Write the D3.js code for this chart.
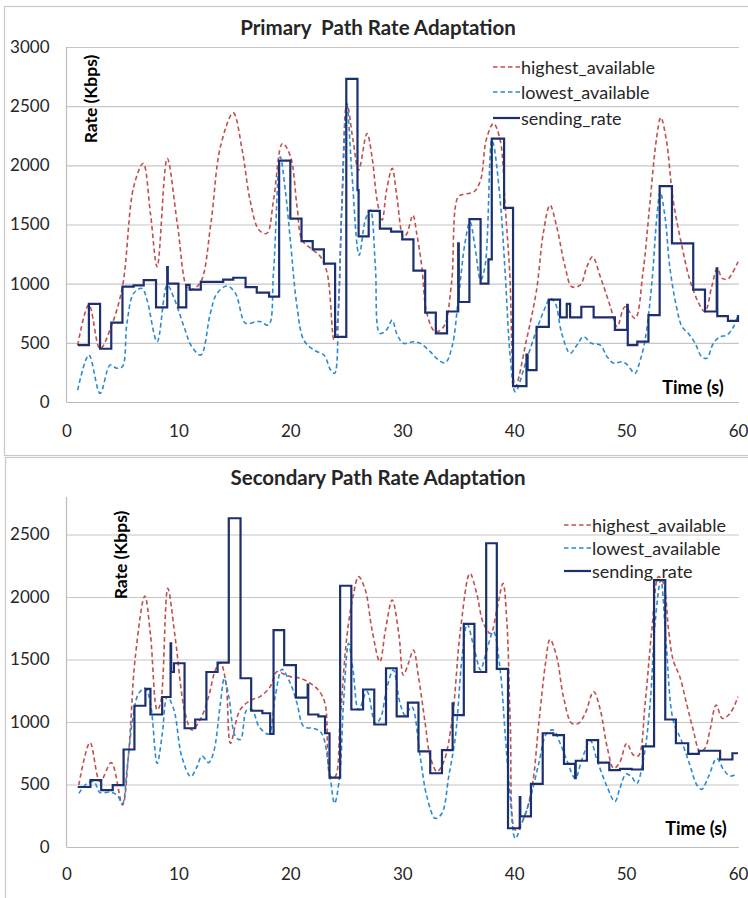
<!DOCTYPE html>
<html>
<head>
<meta charset="utf-8">
<script src="https://cdn.jsdelivr.net/npm/d3@7"></script>
<style>
  html, body { margin: 0; padding: 0; background: #ffffff; }
  svg { display: block; font-family: Lato, "Open Sans", sans-serif; }
</style>
</head>
<body>
<svg id="chart" width="748" height="898"></svg>
<script>
// ---------------- DATA ----------------
const xTicks = [0, 10, 20, 30, 40, 50, 60];
const primaryYTicks = [0, 500, 1000, 1500, 2000, 2500, 3000];
const secondaryYTicks = [0, 500, 1000, 1500, 2000, 2500];
const seriesNames = ["highest_available", "lowest_available", "sending_rate"];

// Primary path: [time (s), rate (Kbps)]
const primaryHighest = [
  [1,480],[2,822],[3,450],[4,640],[5,975],[6,1818],[6.85,2016],[7.5,1594],[8.1,1143],
  [9,2058],[9.9,1509],[10.8,960],[11.2,950],[12,1016],[12.9,1509],[13.75,2156],[14.9,2443],
  [15.7,2128],[16.4,1706],[17.2,1453],[17.9,1425],[18.5,1706],[19.3,2185],[20,2080],
  [20.6,1650],[21.05,1368],[21.8,1300],[22.7,1227],[23.3,1087],[23.9,524],[24.2,667],
  [24.6,1650],[25.05,2523],[25.6,2213],[26.1,1959],[26.85,2269],[27.3,2072],[27.75,1706],
  [28.2,1537],[28.6,1790],[29.1,1974],[29.5,1750],[30.1,1396],[30.4,1420],[30.95,1579],
  [31.3,1420],[31.75,1143],[32.2,749],[32.95,594],[33.7,636],[34.4,1002],[35,1734],
  [35.6,1757],[36.4,1776],[37,1875],[37.5,2213],[38.15,2354],[38.75,2213],[39.2,1650],
  [39.6,1100],[40.1,130],[41.1,524],[42,946],[42.6,1425],[43.2,1664],[43.8,1481],
  [44.55,1143],[45.15,974],[45.9,988],[46.5,1143],[47,1227],[47.7,1058],[48.6,805],
  [49.2,636],[49.9,805],[50.8,707],[51.5,1087],[52.1,1650],[52.7,2213],[53.1,2404],
  [53.6,2213],[54.2,1706],[55,1312],[55.7,1030],[56.5,834],[57.05,763],[57.65,974],
  [58.15,1129],[58.6,1044],[59.1,1040],[60,1185]
];
const primaryLowest = [
  [1,101],[2,397],[3,73],[3.9,312],[4.5,285],[5,300],[5.4,665],[6,918],[6.75,960],
  [7.2,861],[8.1,509],[9,988],[9.6,880],[10.5,636],[11.2,467],[12,397],[12.85,749],
  [13.45,918],[14.35,980],[15.1,918],[16,665],[16.9,678],[17.3,680],[18.05,650],
  [18.5,1100],[19.1,2072],[19.55,1790],[20,1368],[20.6,805],[21.2,524],[22.1,439],
  [23,397],[23.6,270],[23.95,242],[24.3,805],[24.6,1650],[25.05,2508],[25.5,1934],
  [26.15,1241],[26.7,1537],[27.15,1622],[27.6,1143],[28,580],[28.6,610],[29.1,692],
  [29.5,580],[30.1,496],[31,509],[31.6,496],[32.5,425],[33.25,355],[33.85,332],
  [34.45,467],[35,861],[35.6,1340],[36.05,1523],[36.5,1312],[37,1030],[37.4,1150],
  [38,2213],[38.15,2180],[38.75,1706],[39.2,1087],[39.65,383],[40.1,87],[41.1,355],
  [42,608],[42.8,805],[43.2,876],[43.65,840],[44.25,580],[45,411],[45.6,480],[46.2,552],
  [46.9,496],[47.7,480],[48.3,383],[48.9,327],[49.6,340],[50.05,320],[50.8,242],
  [51.25,350],[51.7,524],[52.3,1002],[52.75,1565],[53.05,1776],[53.5,1550],[53.9,1143],
  [54.5,805],[55,636],[55.55,580],[56.15,500],[56.75,383],[57.2,369],[57.8,496],
  [58.4,552],[59,565],[59.6,636],[60,735]
];
const primarySending = [
  [1,480],[2,830],[3,450],[4,670],[5,975],[6,985],[6.9,1030],[8,800],[9,1140],[9.05,1000],
  [10,800],[10.7,990],[11,950],[12,1015],[14,1035],[14.9,1050],[16,970],[17,925],[18.1,890],
  [19,2040],[20,1550],[21,1360],[22,1290],[23,1170],[24,550],[25,2730],[26,1790],[26.1,1400],
  [27,1615],[28,1465],[29,1440],[30,1375],[31,1110],[32.05,755],[33,580],[34,765],[35,1340],
  [35.05,845],[36,1545],[37,1000],[37.7,1205],[38,2225],[39.1,1640],[39.9,135],[41.1,400],
  [41.2,270],[42,635],[43.1,865],[44.1,715],[44.7,830],[45,715],[46,805],[47.1,715],[49,610],
  [50.1,820],[50.15,480],[51,510],[52,735],[53,1825],[54.1,1340],[56,950],[57.05,765],
  [58.1,1130],[58.15,725],[59.1,685],[60,735]
];

// Secondary path: [time (s), rate (Kbps)]
const secondaryHighest = [
  [1.1,496],[2.1,835],[3,523],[4,675],[5,336],[5.55,749],[6.15,1523],[7,2008],[7.5,1700],
  [8.1,1096],[8.4,1150],[9.05,2069],[9.7,1683],[10.6,1069],[11.2,936],[12,1029],[12.7,1203],
  [13.3,1416],[13.75,1475],[14.25,1309],[14.65,829],[15.5,1096],[16.5,1176],[17.3,1203],
  [18.2,1283],[18.8,1403],[19.4,1384],[20,1363],[20.9,1349],[21.8,1309],[22.5,1256],
  [23.1,1149],[23.6,563],[24,563],[24.45,1016],[25.05,1683],[25.6,2003],[26.1,2163],
  [26.7,2056],[27.3,1736],[28,1483],[28.5,1736],[29.1,1976],[29.7,1700],[30.1,1376],
  [30.55,1469],[31,1576],[31.45,1363],[32.05,989],[32.5,723],[33.1,603],[33.7,680],
  [34.45,1016],[35.2,1736],[36.05,2189],[36.65,2029],[37.25,1789],[37.9,1709],[38.45,1896],
  [39,2109],[39.35,1800],[39.65,1000],[40.1,136],[40.8,216],[41.6,483],[42.2,989],
  [42.8,1469],[43.2,1661],[43.8,1523],[44.4,1203],[45.15,989],[45.75,989],[46.35,1069],
  [47.1,1243],[47.7,1096],[48.3,803],[48.9,629],[49.45,680],[50.05,829],[50.65,736],
  [51.1,730],[51.7,1149],[52.3,1736],[52.9,2163],[53.3,2120],[53.8,1736],[54.2,1496],
  [54.8,1363],[55.4,1149],[56,936],[56.6,763],[57.05,790],[57.5,936],[58.05,1136],
  [58.6,1029],[59.3,1070],[60,1203]
];
const secondaryLowest = [
  [1.1,429],[1.85,509],[2.45,523],[3,435],[3.9,440],[4.5,416],[5,349],[5.4,616],[5.9,1016],
  [6.45,1229],[7.05,1269],[7.5,1150],[8.1,669],[8.55,900],[9,1203],[9.6,1096],[10.3,723],
  [11.1,563],[11.65,640],[12.1,728],[12.7,675],[13.15,760],[13.75,1149],[14.1,1349],
  [14.5,1203],[15.1,883],[15.55,860],[16.1,1096],[16.6,1096],[17.2,963],[18.05,904],
  [18.65,1203],[19.25,1421],[20,1309],[20.6,1149],[21.2,963],[22.1,949],[22.8,909],
  [23.55,560],[23.95,349],[24.4,560],[24.75,1149],[25.2,1629],[25.6,1416],[26.1,1096],
  [26.85,1243],[27.6,989],[28.05,1030],[28.65,1283],[29.2,1416],[29.8,1150],[30.25,1056],
  [30.85,1122],[31.6,723],[32.2,403],[32.95,229],[33.55,270],[34.15,563],[34.75,883],
  [35.35,1523],[35.8,1784],[36.4,1600],[37,1416],[37.4,1523],[38.15,1723],[38.75,1416],
  [39.2,900],[39.65,400],[40.1,69],[40.8,220],[41.4,376],[42.2,669],[42.9,909],[43.5,936],
  [44.1,830],[44.7,696],[45.45,549],[46.05,700],[46.8,851],[47.4,696],[48.3,483],[49,363],
  [49.45,470],[50,584],[50.5,560],[50.95,509],[51.55,700],[52.15,1149],[52.6,1800],
  [53.1,2136],[53.6,1600],[54.2,1016],[54.95,850],[55.7,656],[56.3,500],[56.75,461],
  [57.35,560],[58.1,709],[58.7,620],[59.3,568],[59.95,589]
];
const secondarySending = [
  [1,480],[2.14,535],[3.1,455],[4.13,495],[5.1,780],[6.07,1130],[7.05,1265],[7.5,1060],
  [8.55,1200],[9.3,1630],[9.35,1400],[9.6,1470],[10.55,950],[11.5,1020],[12.5,1400],
  [13.5,1475],[14.5,2630],[15.55,1350],[16.5,1090],[17.5,1070],[18.2,905],[18.5,1735],
  [19.45,1455],[20.5,1195],[21.55,1300],[21.6,1060],[22.5,1045],[23.1,910],[23.5,555],
  [24.45,2090],[25.45,1100],[26.5,1260],[27.5,980],[28.55,1430],[29.5,1045],[30.5,1155],
  [31.45,765],[32.5,590],[33.55,775],[34.5,1150],[34.55,1055],[35.5,1785],[36.45,1400],
  [37.5,2430],[38.45,1425],[39.45,150],[40.5,400],[40.55,245],[41.5,505],[42.55,910],
  [43.5,895],[44.45,665],[45.45,550],[45.5,690],[46.5,855],[47.5,675],[48.5,615],
  [49.45,625],[50.5,620],[51.5,805],[52.5,2135],[53.5,1020],[54.45,830],[55.55,745],
  [56.5,770],[58.4,700],[59.5,750],[60,750]
];

// ---------------- DRAWING ----------------
const svg = d3.select("#chart");
const COLORS = { high: "#c0504d", low: "#2a8bd3", send: "#1c2f6f" };
const gridColor = "#c6c6c6";
const textColor = "#262626";

// outer chart frames
svg.append("rect").attr("x", 4.5).attr("y", 6.5).attr("width", 800).attr("height", 449)
  .attr("fill", "none").attr("stroke", "#c8c8c8").attr("stroke-width", 1.2);
svg.append("rect").attr("x", 5.5).attr("y", 457.5).attr("width", 800).attr("height", 500)
  .attr("fill", "none").attr("stroke", "#c8c8c8").attr("stroke-width", 1.2);

function drawPanel(cfg) {
  const x = d3.scaleLinear().domain([0, 60]).range([66.5, 738]);
  const y = d3.scaleLinear().domain([0, cfg.yMax]).range([cfg.y0, cfg.yTop]);
  const g = svg.append("g");

  // title
  g.append("text").attr("x", 378).attr("y", cfg.titleY)
    .attr("text-anchor", "middle").attr("font-weight", "bold")
    .attr("font-size", 20.5).attr("fill", textColor)
    .attr("xml:space", "preserve").style("white-space", "pre")
    .text(cfg.title);

  // gridlines (horizontal)
  const yAxis = d3.axisLeft(y).tickValues(cfg.yTicks).tickSize(-(x(60) + 1 - x(0))).tickPadding(17)
    .tickFormat(d3.format("d"));
  const ya = g.append("g").attr("transform", `translate(${x(0)},0)`).call(yAxis);
  ya.select(".domain").remove();
  ya.selectAll(".tick line").attr("stroke", gridColor).attr("stroke-width", 1.2)
    .filter(d => d === 0).attr("stroke", "#bdbdbd");
  ya.selectAll(".tick text").attr("font-size", 17).attr("fill", textColor)
    .attr("font-family", "Lato, sans-serif");

  // y axis vertical line
  g.append("line").attr("x1", x(0)).attr("x2", x(0)).attr("y1", cfg.yTop).attr("y2", cfg.y0)
    .attr("stroke", "#bdbdbd").attr("stroke-width", 1.2);

  // x axis labels
  const xAxis = d3.axisBottom(x).tickValues(xTicks).tickSize(0).tickPadding(cfg.xLabelPad)
    .tickFormat(d3.format("d"));
  const xa = g.append("g").attr("transform", `translate(0,${cfg.y0})`).call(xAxis);
  xa.select(".domain").remove();
  xa.selectAll(".tick text").attr("font-size", 17).attr("fill", textColor)
    .attr("font-family", "Lato, sans-serif");

  // y axis title
  g.append("text")
    .attr("transform", `translate(${cfg.yTitleX},${cfg.yTitleY}) rotate(-90)`)
    .attr("text-anchor", "middle").attr("dominant-baseline", "central")
    .attr("font-weight", "bold").attr("font-size", 17.5).attr("fill", "#000")
    .text("Rate (Kbps)");

  // x axis title
  g.append("text").attr("x", cfg.timeX).attr("y", cfg.timeY)
    .attr("text-anchor", "middle").attr("dominant-baseline", "central")
    .attr("font-weight", "bold").attr("font-size", 18).attr("fill", "#000")
    .text("Time (s)");

  const smooth = d3.line().x(d => x(d[0])).y(d => y(d[1])).curve(d3.curveCatmullRom.alpha(0.5));
  const step = d3.line().x(d => x(d[0])).y(d => y(d[1])).curve(d3.curveStepAfter);

  g.append("path").attr("d", smooth(cfg.high)).attr("fill", "none")
    .attr("stroke", COLORS.high).attr("stroke-width", 1.6).attr("stroke-dasharray", "4.5,3");
  g.append("path").attr("d", smooth(cfg.low)).attr("fill", "none")
    .attr("stroke", COLORS.low).attr("stroke-width", 1.6).attr("stroke-dasharray", "4.5,3");
  g.append("path").attr("d", step(cfg.send)).attr("fill", "none")
    .attr("stroke", COLORS.send).attr("stroke-width", 2.2).attr("stroke-linejoin", "miter");

  // legend
  const lg = g.append("g");
  const styles = [
    { c: COLORS.high, w: 1.6, dash: "4.5,3" },
    { c: COLORS.low, w: 1.6, dash: "4.5,3" },
    { c: COLORS.send, w: 2.2, dash: null }
  ];
  seriesNames.forEach((name, i) => {
    const ly = cfg.legY[i];
    const ln = lg.append("line").attr("x1", cfg.legX).attr("x2", cfg.legX + 27)
      .attr("y1", ly).attr("y2", ly).attr("stroke", styles[i].c).attr("stroke-width", styles[i].w);
    if (styles[i].dash) ln.attr("stroke-dasharray", styles[i].dash);
    lg.append("text").attr("x", cfg.legX + 28).attr("y", ly)
      .attr("dominant-baseline", "central").attr("font-size", 18).attr("fill", textColor)
      .text(name);
  });
}

drawPanel({
  title: "Primary  Path Rate Adaptation", titleY: 35,
  yMax: 3000, yTicks: primaryYTicks, y0: 402, yTop: 47,
  xLabelPad: 23,
  yTitleX: 90, yTitleY: 99,
  timeX: 693, timeY: 387,
  high: primaryHighest, low: primaryLowest, send: primarySending,
  legX: 493, legY: [67, 92, 118]
});

drawPanel({
  title: "Secondary Path Rate Adaptation", titleY: 485,
  yMax: 2800, yTicks: secondaryYTicks, y0: 847, yTop: 497,
  xLabelPad: 21,
  yTitleX: 120, yTitleY: 555,
  timeX: 696, timeY: 828,
  high: secondaryHighest, low: secondaryLowest, send: secondarySending,
  legX: 564, legY: [525, 548, 571]
});
</script>
</body>
</html>
